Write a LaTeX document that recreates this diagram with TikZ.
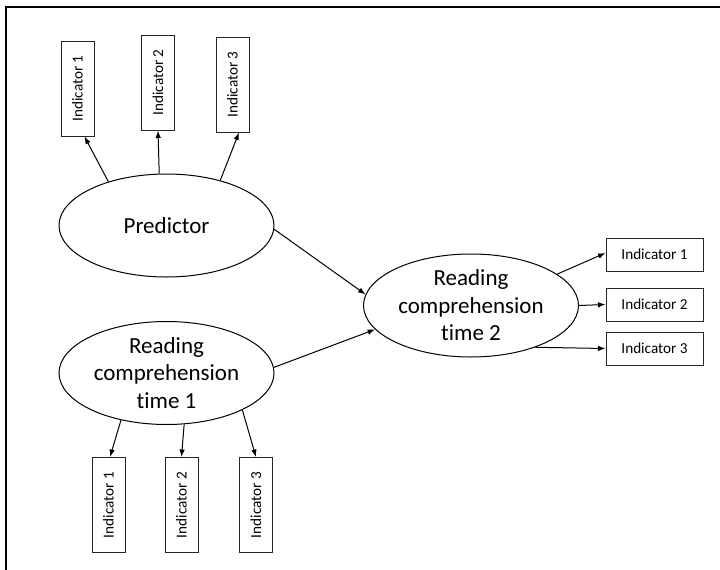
\documentclass[tikz,border=0pt]{standalone}
\usepackage{fontspec}
\setmainfont[Ligatures=NoCommon]{Carlito}
\usetikzlibrary{shapes.geometric,arrows.meta}

\begin{document}
\begin{tikzpicture}[x=1pt,y=-1pt,
  latent/.style={draw=black,line width=1pt,ellipse,inner sep=0pt,
    minimum width=215pt,minimum height=103pt},
  ltext/.style={align=center,font=\fontsize{23}{27.5}\selectfont,inner sep=0pt},
  vbox/.style={draw=black!85,line width=1pt,inner sep=0pt,
    minimum width=33pt,minimum height=95pt,font=\fontsize{15.2}{18}\selectfont},
  hbox/.style={draw=black!85,line width=1pt,inner sep=0pt,
    minimum width=97pt,minimum height=33pt,font=\fontsize{15.2}{18}\selectfont},
  link/.style={line width=1pt,-{Latex[length=7.5pt,width=5.5pt]}}]

\useasboundingbox (0,0) rectangle (720,570);

% frame: top and left rules only
\draw[line width=2pt] (5,7) -- (720,7);
\draw[line width=1.8pt] (6,6) -- (6,570);

% latent variables
\node[latent,label={[ltext]center:Predictor}] (pred) at (166.5,225.5) {};
\node[latent,label={[ltext]center:Reading\\comprehension\\time 1}] (rc1) at (166.5,373) {};
\node[latent,label={[ltext]center:Reading\\comprehension\\time 2}] (rc2) at (471,305.5) {};

% indicators of the predictor
\node[vbox] (p1) at (77.5,88.5) {\rotatebox{90}{Indicator 1}};
\node[vbox] (p2) at (158,82.5) {\rotatebox{90}{Indicator 2}};
\node[vbox] (p3) at (232.5,84.5) {\rotatebox{90}{Indicator 3}};

% indicators of reading comprehension, time 1
\node[vbox] (a1) at (108.5,505) {\rotatebox{90}{Indicator 1}};
\node[vbox] (a2) at (181.5,505) {\rotatebox{90}{Indicator 2}};
\node[vbox] (a3) at (256,505) {\rotatebox{90}{Indicator 3}};

% indicators of reading comprehension, time 2
\node[hbox] (b1) at (654.5,254.5) {Indicator 1};
\node[hbox] (b2) at (654.5,304.5) {Indicator 2};
\node[hbox] (b3) at (654.5,348.5) {Indicator 3};

% loadings
\draw[link] (pred.143.4) -- ([xshift=7pt]p1.south);
\draw[link] (pred.98.3) -- (p2.south);
\draw[link] (pred.40.7) -- ([xshift=6.5pt]p3.south);

\draw[link] (rc1.-134.7) -- ([xshift=1.5pt]a1.north);
\draw[link] (rc1.-71) -- (a2.north);
\draw[link] (rc1.-26.7) -- (a3.north);

\draw[link] (rc2.20.5) -- ([yshift=1.5pt]b1.west);
\draw[link] (rc2.0) -- (b2.west);
\draw[link] (rc2.-33.8) -- (b3.west);

% structural paths
\draw[link] (pred.-2) -- (rc2.174);
\draw[link] (rc1.3.2) -- (rc2.-166);
\end{tikzpicture}
\end{document}
